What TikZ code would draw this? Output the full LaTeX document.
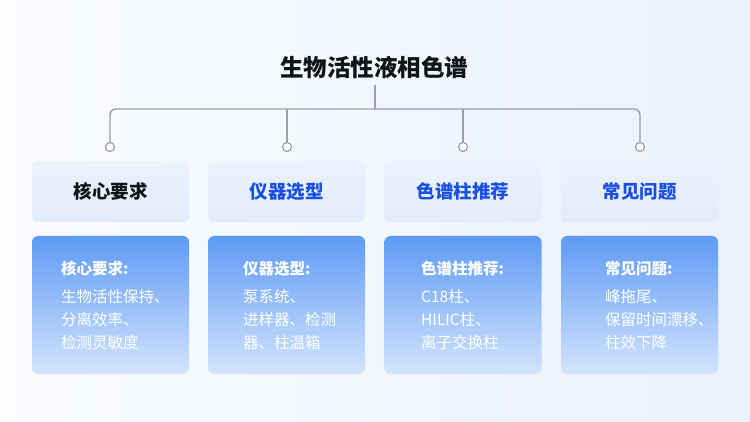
\documentclass[tikz,border=0pt]{standalone}
\usepackage{fontspec}
\setmainfont{Noto Sans CJK SC}
\usetikzlibrary{calc}
\definecolor{bgc}{HTML}{F3F7FC}
\definecolor{bgd}{HTML}{E9F1FB}
\definecolor{conn}{HTML}{9AA0A8}
\definecolor{lblue}{HTML}{1A4FE6}
\definecolor{tboxt}{HTML}{EAF2FD}
\definecolor{tboxb}{HTML}{E1ECFB}
\definecolor{bboxt}{HTML}{5E9AF5}
\definecolor{bboxb}{HTML}{D3E4FC}
\definecolor{ink}{HTML}{111418}
\tikzset{
  connline/.style={draw=conn, line width=1.4pt},
  dot/.style={circle, draw=conn, fill=white, line width=1.2pt, minimum size=9pt, inner sep=0pt},
  topbox/.style={rounded corners=5pt, top color=tboxt, bottom color=tboxb, draw=none,
     minimum width=157pt, minimum height=61pt, inner sep=0pt, font=\fontsize{18.5}{20}\selectfont\bfseries},
  botbox/.style={rounded corners=6pt, top color=bboxt, bottom color=bboxb, draw=none,
     minimum width=157pt, minimum height=138pt, inner sep=0pt},
  headtxt/.style={anchor=west, inner sep=0pt, text=white, font=\fontsize{15.5}{17}\selectfont\bfseries},
  bodytxt/.style={anchor=west, inner sep=0pt, text=white, align=left, font=\fontsize{15.5}{23}\selectfont}
}
\begin{document}
\begin{tikzpicture}[x=1pt,y=-1pt]
\useasboundingbox (0,0) rectangle (750,422);
\shade[left color=white!60!bgc, right color=bgd] (0,0) rectangle (750,422);
% title
\node[font=\fontsize{23.5}{28}\selectfont\bfseries, text=ink, inner sep=0pt] (title) at (374,67) {生物活性液相色谱};
\coordinate (hub) at (375,109);
\coordinate (tb) at (375,85);
% dots
\node[dot] (c1) at (110,147) {};
\node[dot] (c2) at (287,147) {};
\node[dot] (c3) at (463,147) {};
\node[dot] (c4) at (640,147) {};
% connectors
\draw[connline] (tb) -- (hub);
\draw[connline, rounded corners=6pt] (c1.north) -- (c1.north |- hub) -- (c4.north |- hub) -- (c4.north);
\draw[connline] (c2.north) -- (c2.north |- hub);
\draw[connline] (c3.north) -- (c3.north |- hub);
% top boxes
\node[topbox, text=ink] (t1) at (110.5,191.5) {核心要求};
\node[topbox, text=lblue] (t2) at (286.5,191.5) {仪器选型};
\node[topbox, text=lblue] (t3) at (463,191.5) {色谱柱推荐};
\node[topbox, text=lblue] (t4) at (639.5,191.5) {常见问题};
% bottom boxes
\node[botbox] (b1) at (110.5,305) {};
\node[botbox] (b2) at (286.5,305) {};
\node[botbox] (b3) at (463,305) {};
\node[botbox] (b4) at (639.5,305) {};
% texts
\node[headtxt] (h1) at (61,269) {核心要求:};
\node[bodytxt] (x1) at (61,320) {生物活性保持、\\分离效率、\\检测灵敏度};
\node[headtxt] (h2) at (243,269) {仪器选型:};
\node[bodytxt] (x2) at (243,320) {泵系统、\\进样器、检测\\器、柱温箱};
\node[headtxt] (h3) at (421,269) {色谱柱推荐:};
\node[bodytxt] (x3) at (421,320) {C18柱、\\HILIC柱、\\离子交换柱};
\node[headtxt] (h4) at (605,269) {常见问题:};
\node[bodytxt] (x4) at (605,320) {峰拖尾、\\保留时间漂移、\\柱效下降};
\end{tikzpicture}
\end{document}
